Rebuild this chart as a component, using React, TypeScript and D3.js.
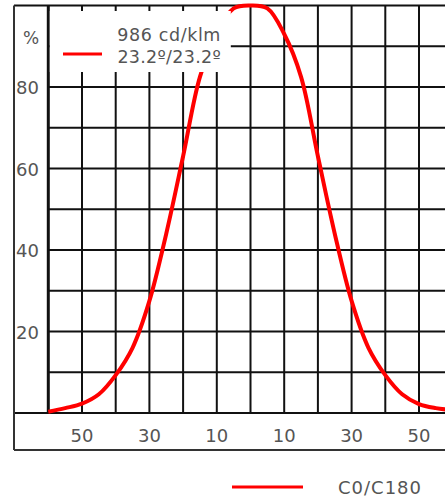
import * as d3 from "d3";

// luminous intensity profile (C0/C180 plane), % of max vs angle in degrees
const angles = [
  -60, -55, -50, -45, -40, -35, -30, -25, -20, -15, -10, -5, 0, 5, 10, 15, 20,
  25, 30, 35, 40, 45, 50, 55, 60,
];
const intensity = [
  0.3, 1.2, 2.3, 4.6, 9.3, 16, 27.5, 44, 63, 82.5, 93, 99.3, 100, 99.3, 93,
  82.5, 63, 44, 27.5, 16, 9.3, 4.6, 2.2, 1.2, 0.7,
];

const yTicks = [20, 40, 60, 80];
const xTicks = [-50, -30, -10, 10, 30, 50];
const seriesLabel = "C0/C180";
const fluxLabel = "986 cd/klm";
const beamLabel = "23.2º/23.2º";

const FONT = "'DejaVu Sans', Verdana, sans-serif";
const TEXT = "#555";
const GRID = "#111";

export default function App() {
  const W = 445;
  const H = 501;
  const x = d3.scaleLinear().domain([-60, 60]).range([48.3, 452.7]);
  const y = d3.scaleLinear().domain([0, 100]).range([413, 5.5]);

  const pts = angles.map((a, i) => [a, intensity[i]] as [number, number]);
  const line = d3
    .line<[number, number]>()
    .x((d) => x(d[0]))
    .y((d) => y(d[1]))
    .curve(d3.curveCatmullRom.alpha(0.5));

  const vGrid = d3.range(-60, 61, 10);
  const hGrid = d3.range(0, 101, 10);

  return (
    <svg
      width={W}
      height={H}
      style={{ position: "absolute", left: 0, top: 0, background: "#fff" }}
    >
      {/* grid */}
      {vGrid.map((v) => (
        <line
          key={"v" + v}
          x1={x(v)}
          x2={x(v)}
          y1={y(100)}
          y2={y(0)}
          stroke={GRID}
          strokeWidth={v === -60 ? 3 : 2}
        />
      ))}
      {hGrid.map((v) => (
        <line
          key={"h" + v}
          x1={v === 0 || v === 100 ? 14 : x(-60)}
          x2={W}
          y1={y(v)}
          y2={y(v)}
          stroke={GRID}
          strokeWidth={2}
        />
      ))}

      {/* outer frame */}
      <line x1={14} x2={14} y1={y(100)} y2={450} stroke="#333" strokeWidth={2} />
      <line x1={14} x2={W} y1={450} y2={450} stroke="#333" strokeWidth={2} />

      {/* curve */}
      <path d={line(pts) ?? ""} fill="none" stroke="#ff0000" strokeWidth={4} />

      {/* legend box over the grid */}
      <rect x={49.8} y={11} width={181} height={61} fill="#fff" />
      <line x1={63} x2={102} y1={54} y2={54} stroke="#ff0000" strokeWidth={3} />
      <text x={221} y={41} textAnchor="end" fontFamily={FONT} fontSize={17.5} letterSpacing={0.6} fill={TEXT}>
        {fluxLabel}
      </text>
      <text x={221} y={63} textAnchor="end" fontFamily={FONT} fontSize={17.5} letterSpacing={0.3} fill={TEXT}>
        {beamLabel}
      </text>

      {/* y labels */}
      <text x={23} y={44} fontFamily={FONT} fontSize={17} fill={TEXT}>
        %
      </text>
      {yTicks.map((t) => (
        <text
          key={t}
          x={16}
          y={y(t) + 7}
          fontFamily={FONT}
          fontSize={18}
          fill={TEXT}
        >
          {t}
        </text>
      ))}

      {/* x labels */}
      {xTicks.map((t) => (
        <text
          key={t}
          x={x(t)}
          y={442}
          textAnchor="middle"
          fontFamily={FONT}
          fontSize={18}
          fill={TEXT}
        >
          {Math.abs(t)}
        </text>
      ))}

      {/* bottom legend */}
      <line x1={232} x2={303} y1={487} y2={487} stroke="#ff0000" strokeWidth={3} />
      <text x={338} y={494} fontFamily={FONT} fontSize={18} letterSpacing={1} fill={TEXT}>
        {seriesLabel}
      </text>
    </svg>
  );
}
